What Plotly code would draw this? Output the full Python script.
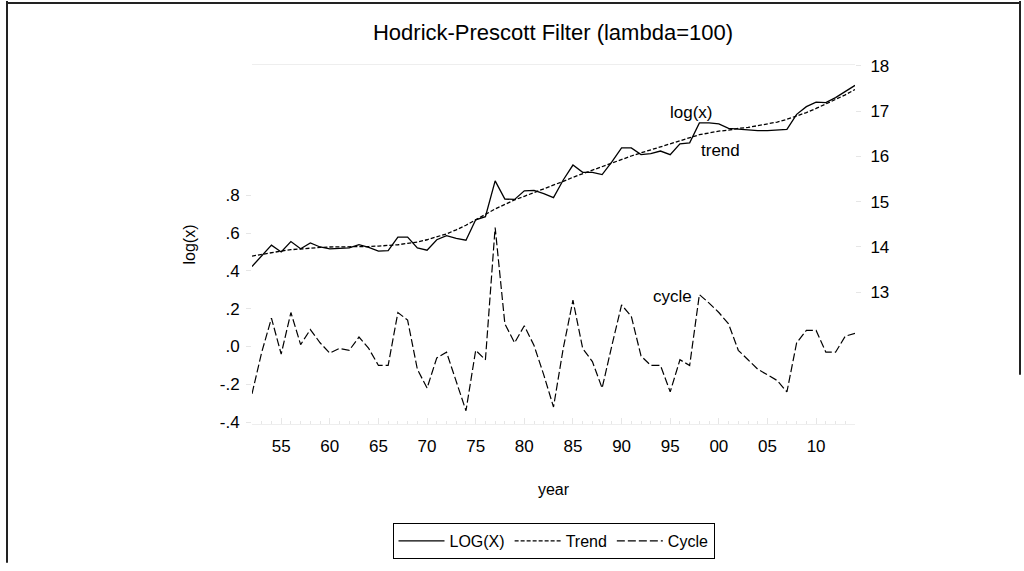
import plotly.graph_objects as go

# data
years = list(range(1952, 2015))

log_x = [13.57, 13.80, 14.04, 13.89, 14.12, 13.96, 14.09, 14.00, 13.96, 13.97,
         13.98, 14.05, 13.99, 13.91, 13.92, 14.22, 14.22, 13.98, 13.93, 14.16,
         14.25, 14.19, 14.15, 14.60, 14.67, 15.46, 15.06, 15.05, 15.24, 15.25,
         15.18, 15.09, 15.48, 15.81, 15.65, 15.65, 15.60, 15.88, 16.19, 16.19,
         16.04, 16.06, 16.12, 16.04, 16.28, 16.30, 16.74, 16.74, 16.72, 16.62,
         16.60, 16.58, 16.57, 16.57, 16.58, 16.60, 16.93, 17.10, 17.20, 17.19,
         17.30, 17.44, 17.57]

trend = [13.80, 13.84, 13.88, 13.91, 13.94, 13.96, 13.98, 13.99, 14.00, 14.00,
         14.00, 14.00, 14.01, 14.02, 14.03, 14.05, 14.08, 14.11, 14.16, 14.22,
         14.29, 14.38, 14.48, 14.60, 14.72, 14.84, 14.94, 15.04, 15.12, 15.20,
         15.28, 15.36, 15.45, 15.54, 15.62, 15.70, 15.78, 15.86, 15.94, 16.01,
         16.08, 16.14, 16.21, 16.28, 16.35, 16.42, 16.48, 16.52, 16.56, 16.58,
         16.62, 16.64, 16.68, 16.71, 16.76, 16.82, 16.89, 16.97, 17.06, 17.16,
         17.26, 17.36, 17.48]

cycle = [-0.25, -0.03, 0.15, -0.04, 0.18, 0.01, 0.09, 0.02, -0.035, -0.01,
         -0.02, 0.05, -0.01, -0.10, -0.10, 0.18, 0.14, -0.12, -0.22, -0.06,
         -0.03, -0.19, -0.34, -0.02, -0.07, 0.63, 0.12, 0.02, 0.11, 0.005,
         -0.15, -0.32, -0.01, 0.245, -0.01, -0.08, -0.22, 0.005, 0.22, 0.16,
         -0.05, -0.10, -0.10, -0.24, -0.07, -0.10, 0.275, 0.23, 0.18, 0.12,
         -0.02, -0.07, -0.12, -0.15, -0.18, -0.24, 0.02, 0.085, 0.085, -0.03,
         -0.03, 0.055, 0.07]

x_tick_vals = [1955, 1960, 1965, 1970, 1975, 1980, 1985, 1990, 1995, 2000, 2005, 2010]
x_tick_text = ["55", "60", "65", "70", "75", "80", "85", "90", "95", "00", "05", "10"]
left_tick_vals = [-0.4, -0.2, 0.0, 0.2, 0.4, 0.6, 0.8]
left_tick_text = ["-.4", "-.2", ".0", ".2", ".4", ".6", ".8"]
right_tick_vals = [13, 14, 15, 16, 17, 18]

FONT = "Liberation Sans, Arial, sans-serif"
TICK_GREY = "#e6e6e6"

fig = go.Figure()

fig.add_trace(go.Scatter(
    x=years, y=log_x, mode="lines", name="LOG(X)", yaxis="y2",
    line=dict(color="black", width=1.3)
))
fig.add_trace(go.Scatter(
    x=years, y=trend, mode="lines", name="Trend", yaxis="y2",
    line=dict(color="black", width=1.3, dash="4px,2px")
))
fig.add_trace(go.Scatter(
    x=years, y=cycle, mode="lines", name="Cycle", yaxis="y",
    line=dict(color="black", width=1.2, dash="8px,3px")
))

ann_font = dict(size=17, color="black", family=FONT)
fig.add_annotation(x=1997.2, y=16.98, yref="y2", text="log(x)", showarrow=False, font=ann_font)
fig.add_annotation(x=2000.2, y=16.13, yref="y2", text="trend", showarrow=False, font=ann_font)
fig.add_annotation(x=1995.2, y=0.265, yref="y", text="cycle", showarrow=False, font=ann_font)

# outer frame of the original screenshot
L, R = 252, 855
T, B = 65, 430


def px_x(p):
    return (p - L) / (R - L)


def px_y(p):
    return (B - p) / (B - T)


frame = dict(type="line", xref="paper", yref="paper",
             line=dict(color="#222222", width=2), layer="above")
fig.add_shape(x0=px_x(7), x1=px_x(7), y0=px_y(0), y1=px_y(571), **frame)
fig.add_shape(x0=px_x(6), x1=px_x(1021), y0=px_y(2), y1=px_y(2), **frame)
fig.add_shape(x0=px_x(1020), x1=px_x(1020), y0=px_y(0), y1=px_y(380), **frame)

fig.update_layout(
    width=1024, height=571,
    template="plotly_white",
    plot_bgcolor="white",
    paper_bgcolor="white",
    font=dict(family=FONT, size=16, color="black"),
    title=dict(text="Hodrick-Prescott Filter (lambda=100)", x=px_x(553), xref="paper",
               xanchor="center", y=1 - 32 / 571, yanchor="middle",
               font=dict(size=22, color="black")),
    margin=dict(l=L, r=1024 - R, t=T, b=571 - B),
    showlegend=True,
    legend=dict(orientation="h", x=0.5, xanchor="center", y=px_y(549), yanchor="middle",
                bordercolor="black", borderwidth=1, bgcolor="white",
                font=dict(size=16, color="black"), itemwidth=46,
                tracegroupgap=0),
    xaxis=dict(
        range=[1952, 2014], tickvals=x_tick_vals, ticktext=x_tick_text,
        showgrid=False, zeroline=False, showline=True, linecolor="#eeeeee",
        mirror=True, ticks="inside", ticklen=6, tickcolor=TICK_GREY,
        minor=dict(dtick=1, ticks="inside", ticklen=3, tickcolor=TICK_GREY, showgrid=False),
        title=dict(text="year", standoff=28, font=dict(size=16)),
        tickfont=dict(size=17), ticklabelstandoff=7, automargin=False,
    ),
    yaxis=dict(
        range=[-0.41, 1.49], tickvals=left_tick_vals, ticktext=left_tick_text,
        showgrid=False, zeroline=False, showline=False,
        ticks="outside", ticklen=5, tickcolor=TICK_GREY,
        title=dict(text="log(x)", standoff=20, font=dict(size=16)),
        tickfont=dict(size=17), ticklabelstandoff=3, automargin=False,
    ),
    yaxis2=dict(
        range=[10.09, 18.02], tickvals=right_tick_vals, overlaying="y", side="right",
        showgrid=False, zeroline=False, showline=False,
        ticks="outside", ticklen=5, tickcolor=TICK_GREY,
        tickfont=dict(size=17), ticklabelstandoff=6, automargin=False,
    ),
)

# drop the default page margin so the figure sits at the window's top-left corner
fig.write_html("out.html", config={"displayModeBar": False},
               post_script="document.body.style.margin='0';")
